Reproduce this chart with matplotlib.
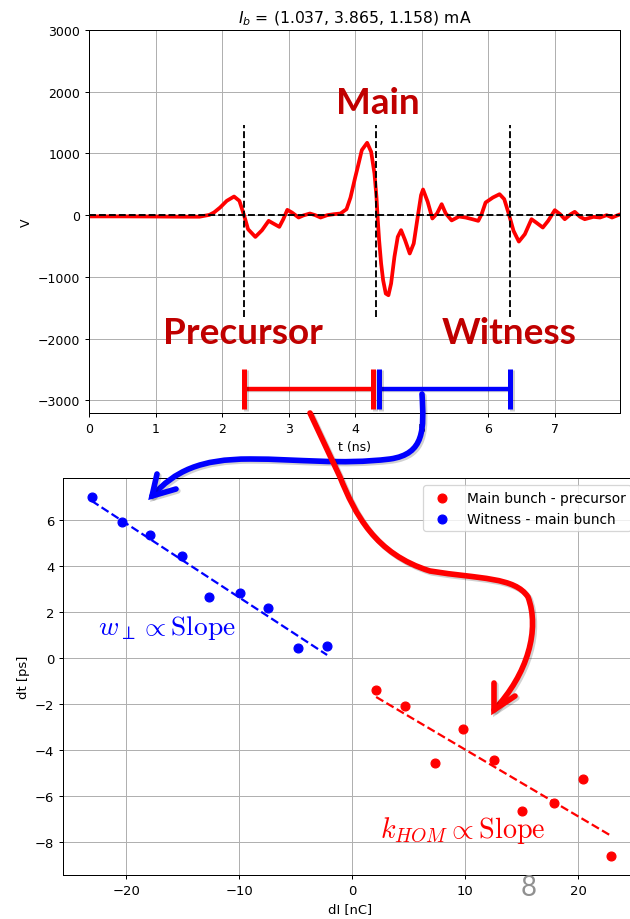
import numpy as np
import matplotlib.pyplot as plt
import matplotlib.patheffects as pe
from matplotlib.path import Path
from matplotlib.patches import PathPatch

## Beam signal (top panel)
t_ns = [0.00, 0.50, 1.00, 1.40, 1.66, 1.81, 1.88, 1.97, 2.07, 2.18, 2.26, 2.33,
        2.39, 2.50, 2.60, 2.70, 2.77, 2.86, 2.92, 2.98, 3.05, 3.15, 3.22, 3.32,
        3.40, 3.48, 3.58, 3.68, 3.78, 3.87, 3.93, 4.00, 4.04, 4.10, 4.18, 4.24,
        4.29, 4.32, 4.34, 4.36, 4.39, 4.42, 4.46, 4.50, 4.54, 4.59, 4.64, 4.69,
        4.75, 4.82, 4.88, 4.94, 4.99, 5.02, 5.09, 5.16, 5.23, 5.30, 5.36, 5.45,
        5.56, 5.66, 5.76, 5.85, 5.90, 5.96, 6.07, 6.17, 6.24, 6.31, 6.38, 6.46,
        6.55, 6.65, 6.72, 6.82, 6.90, 7.00, 7.08, 7.15, 7.24, 7.30, 7.38, 7.45,
        7.58, 7.68, 7.78, 7.86, 7.96]
volts = [-20, -20, -22, -25, -25, 5, 45, 124, 232, 302, 232, 0,
         -227, -352, -244, -92, -135, -189, -65, 86, 43, -38, -5, 27,
         0, -38, 0, 16, 27, 97, 286, 610, 784, 1054, 1173, 1027,
         676, 297, -81, -405, -783, -1053, -1270, -1297, -1108, -676, -352, -243,
         -405, -621, -459, -27, 324, 416, 216, -54, 27, 178, 30, -85,
         -22, -38, -65, -92, 16, 205, 286, 340, 260, 16, -254, -428,
         -308, -65, -119, -200, -92, 81, 16, -65, 16, 54, -27, -65,
         -27, -38, 0, -38, 5]

windows = [2.33, 4.32, 6.33]   # precursor / main / witness

## Time shift vs charge (bottom panel)
dI_main = [2.12, 4.70, 7.34, 9.78, 12.58, 15.06, 17.83, 20.40, 22.90]
dt_main = [-1.39, -2.06, -4.57, -3.07, -4.41, -6.64, -6.29, -5.26, -8.60]
dI_wit = [-23.07, -20.40, -17.90, -15.06, -12.67, -9.97, -7.46, -4.77, -2.22]
dt_wit = [7.00, 5.91, 5.36, 4.45, 2.68, 2.84, 2.19, 0.45, 0.52]

dark_red = '#C00000'
shadow = [pe.SimpleLineShadow(offset=(1.5, -1.5), alpha=0.18), pe.Normal()]

plt.rcParams['font.size'] = 10
fig = plt.figure(figsize=(7, 920/90), dpi=90)

#################### TOP ####################
ax1 = fig.add_axes([89/630, 1-414/920, 531/630, 383/920])
ax1.plot(t_ns, volts, color='red', lw=3, zorder=2)
ax1.axhline(0, color='k', ls='--', lw=1.5, zorder=3)
ax1.vlines(windows, -1650, 1460, colors='k', linestyles='--', lw=1.5, zorder=3)
ax1.set_xlim(0, 7.98)
ax1.set_ylim(-3205, 3000)
ax1.set_xticks(range(8))
ax1.set_yticks(range(-3000, 3001, 1000))
ax1.grid(True)
ax1.set_xlabel('t (ns)')
ax1.set_ylabel('V')
ax1.set_title(r'$I_b$ = (1.037, 3.865, 1.158) mA', fontsize=12.5)

# brackets for the two windows
bar_v = -2810
cap_lo, cap_hi = -3135, -2485
brackets = [(windows[0], windows[1] - 0.05, 'red'), (windows[1] + 0.04, windows[2], 'blue')]
for a, b, c in brackets:
    ax1.plot([a, b], [bar_v, bar_v], color=c, lw=3.5, solid_capstyle='butt',
             clip_on=False, zorder=5, path_effects=shadow)
    ax1.vlines([a, b], cap_lo, cap_hi, colors=c, lw=4, clip_on=False, zorder=5,
               path_effects=shadow)

big = dict(color=dark_red, fontsize=29.5, fontweight='bold', family='Lato',
           ha='center', va='baseline')
ax1.text(4.34, 1656, 'Main', **big)
ax1.text(2.31, -2078, 'Precursor', **big)
ax1.text(6.31, -2078, 'Witness', **big)

#################### BOTTOM ####################
ax2 = fig.add_axes([63/630, 1-876/920, 575/630, 396.7/920])
ax2.scatter(dI_main, dt_main, color='red', s=50, label='Main bunch - precursor', zorder=3)
ax2.scatter(dI_wit, dt_wit, color='blue', s=50, label='Witness - main bunch', zorder=3)
for x, y, c in [(dI_wit, dt_wit, 'blue'), (dI_main, dt_main, 'red')]:
    p = np.polyfit(x, y, 1)
    xx = np.array([min(x), max(x)])
    ax2.plot(xx, np.polyval(p, xx), '--', color=c, lw=1.8, zorder=2)
ax2.set_xlim(-25.6, 25.3)
ax2.set_ylim(-9.42, 7.83)
ax2.set_xticks([-20, -10, 0, 10, 20])
ax2.set_yticks(range(-8, 7, 2))
ax2.tick_params(labelsize=10.5)
ax2.grid(True)
ax2.set_xlabel('dI [nC]', fontsize=10.5)
ax2.set_ylabel('dt [ps]', fontsize=10.5)
ax2.legend(loc='upper right', fontsize=11)
ax2.text(-22.5, 1.05, r'$w_\perp \propto \mathrm{Slope}$', color='blue', fontsize=22,
         math_fontfamily='cm')
ax2.text(2.44, -7.78, r'$k_{HOM} \propto \mathrm{Slope}$', color='red', fontsize=22.5,
         math_fontfamily='cm')

#################### ARROWS (slide overlay, pixel coords) ####################
ov = fig.add_axes([0, 0, 1, 1], zorder=10)
ov.set_xlim(0, 630)
ov.set_ylim(920, 0)
ov.axis('off')

C, L, M = Path.CURVE4, Path.LINETO, Path.MOVETO
blue_path = Path([(422, 395), (424, 430), (425, 455), (390, 460),
                  (340, 466), (300, 460), (250, 460),
                  (200, 460), (175, 472), (152, 497)],
                 [M, C, C, C, C, C, C, C, C, C])
red_path = Path([(310, 414), (340, 478),
                 (355, 515), (375, 555), (430, 572),
                 (480, 580), (515, 578), (528, 598),
                 (540, 630), (528, 675), (494, 711)],
                [M, L, C, C, C, C, C, C, C, C, C])
heads = [([(157, 475), (152, 497), (176, 490)], 'blue'),
         ([(494, 684), (494, 711), (515, 697)], 'red')]
for path, c in [(blue_path, 'blue'), (red_path, 'red')]:
    ov.add_patch(PathPatch(path, fill=False, edgecolor=c, lw=4.5, capstyle='round',
                           path_effects=shadow))
for pts, c in heads:
    xs, ys = zip(*pts)
    ov.plot(xs, ys, color=c, lw=4.5, solid_capstyle='round', solid_joinstyle='miter',
            path_effects=shadow)

fig.text(529/630, 1-888/920, '8', color='#909090', fontsize=22, family='Lato',
         ha='center', va='center')

fig.savefig('out.png', dpi=90)
